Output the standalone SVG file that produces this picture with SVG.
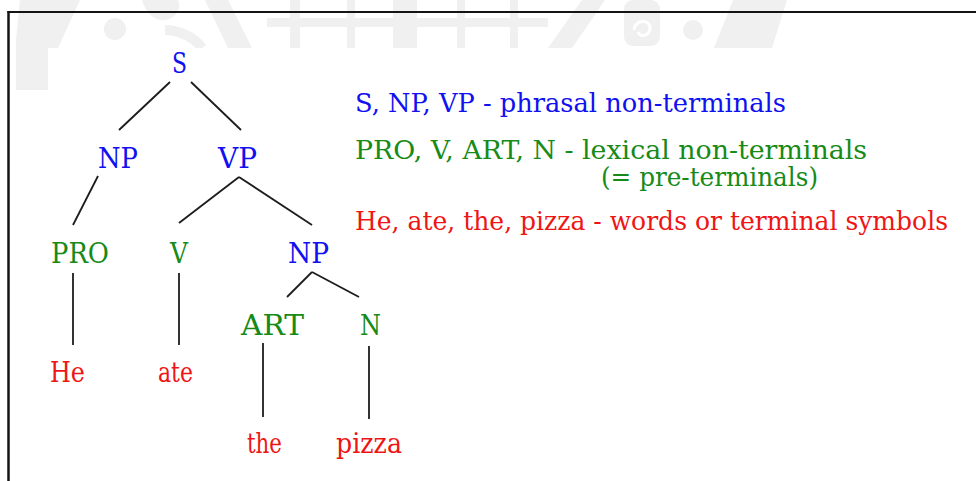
<svg xmlns="http://www.w3.org/2000/svg" width="976" height="481" viewBox="0 0 976 481">
  <style>
    .wm { fill: #f0f0f0; }
    .frame { stroke: #141414; fill: none; }
    .edge { stroke: #1c1c1c; stroke-width: 1.8; fill: none; stroke-linecap: butt; }
    .lbl { font-family: "DejaVu Serif", "Liberation Serif", serif; font-size: 27px; text-anchor: middle; }
    .key { font-family: "DejaVu Serif", "Liberation Serif", serif; font-size: 26px; }
    .phr { fill: #1010f0; }
    .lex { fill: #178a17; }
    .word { fill: #ee1515; }
  </style>

  <rect width="976" height="481" fill="#ffffff"/>

  <!-- faint background emblem along the top -->
  <g id="emblem">
    <polygon class="wm" points="20,0 80,0 58,48 48,48 48,90 16,90 16,40"/>
    <circle class="wm" cx="115" cy="29" r="11"/>
    <path class="wm" d="M142,0 L178,0 C182,8 176,18 166,20 C156,22 146,14 142,0 Z"/>
    <path d="M165,30 C180,30 195,38 202,48" stroke="#f0f0f0" stroke-width="10" fill="none"/>
    <polygon class="wm" points="205,0 228,0 252,48 228,48"/>
    <rect class="wm" x="267" y="18" width="281" height="9"/>
    <rect class="wm" x="290" y="0" width="10" height="48"/>
    <rect class="wm" x="347" y="0" width="8" height="48"/>
    <rect class="wm" x="393" y="0" width="24" height="48"/>
    <rect class="wm" x="457" y="0" width="8" height="48"/>
    <rect class="wm" x="510" y="0" width="8" height="48"/>
    <polygon class="wm" points="582,0 605,0 572,48 548,48"/>
    <rect class="wm" x="624" y="0" width="36" height="46" rx="9"/>
    <path d="M634,30 C634,20 650,18 650,28 C650,36 640,38 638,32" stroke="#ffffff" stroke-width="3" fill="none"/>
    <circle class="wm" cx="693" cy="30" r="10"/>
    <polygon class="wm" points="733,0 787,0 772,48 714,48"/>
  </g>

  <!-- white drawing area -->
  <rect x="48" y="48" width="928" height="433" fill="#ffffff"/>

  <!-- frame -->
  <line class="frame" x1="7.5" y1="12" x2="976" y2="12" stroke-width="2"/>
  <line class="frame" x1="8.5" y1="11" x2="8.5" y2="481" stroke-width="2.5"/>

  <!-- tree branches -->
  <g id="connectors">
    <line class="edge" x1="170" y1="82" x2="119" y2="130"/>
    <line class="edge" x1="191" y1="82" x2="241" y2="130"/>
    <line class="edge" x1="98" y1="176" x2="73" y2="225"/>
    <line class="edge" x1="239" y1="177" x2="179" y2="223"/>
    <line class="edge" x1="239" y1="177" x2="312" y2="225"/>
    <line class="edge" x1="73" y1="273" x2="73" y2="345" stroke-width="2.2"/>
    <line class="edge" x1="179" y1="273" x2="179" y2="345" stroke-width="2.2"/>
    <line class="edge" x1="312" y1="272" x2="287" y2="297"/>
    <line class="edge" x1="312" y1="272" x2="359" y2="297"/>
    <line class="edge" x1="263" y1="343" x2="263" y2="417" stroke-width="2.2"/>
    <line class="edge" x1="369" y1="346" x2="369" y2="419" stroke-width="2.2"/>
  </g>

  <!-- tree nodes -->
  <g id="node-S"><text class="lbl phr" x="179.5" y="73" textLength="15" lengthAdjust="spacingAndGlyphs">S</text></g>
  <g id="node-NP1"><text class="lbl phr" x="118" y="168" textLength="40" lengthAdjust="spacingAndGlyphs">NP</text></g>
  <g id="node-VP"><text class="lbl phr" x="237.5" y="168" textLength="39" lengthAdjust="spacingAndGlyphs">VP</text></g>
  <g id="node-PRO"><text class="lbl lex" x="80" y="263" textLength="58" lengthAdjust="spacingAndGlyphs">PRO</text></g>
  <g id="node-V"><text class="lbl lex" x="179" y="263" textLength="18" lengthAdjust="spacingAndGlyphs">V</text></g>
  <g id="node-NP2"><text class="lbl phr" x="308.5" y="263" textLength="41" lengthAdjust="spacingAndGlyphs">NP</text></g>
  <g id="node-ART"><text class="lbl lex" x="272.5" y="335" textLength="63" lengthAdjust="spacingAndGlyphs">ART</text></g>
  <g id="node-N"><text class="lbl lex" x="370.5" y="335" textLength="21" lengthAdjust="spacingAndGlyphs">N</text></g>
  <g id="node-He"><text class="lbl word" x="67.5" y="382" textLength="35" lengthAdjust="spacingAndGlyphs">He</text></g>
  <g id="node-ate"><text class="lbl word" x="175.5" y="382" textLength="35" lengthAdjust="spacingAndGlyphs">ate</text></g>
  <g id="node-the"><text class="lbl word" x="264.5" y="453" textLength="35" lengthAdjust="spacingAndGlyphs">the</text></g>
  <g id="node-pizza"><text class="lbl word" x="369" y="453" textLength="66" lengthAdjust="spacingAndGlyphs">pizza</text></g>

  <!-- key -->
  <g id="key">
    <text class="key phr" x="355" y="112" textLength="431" lengthAdjust="spacingAndGlyphs">S, NP, VP - phrasal non-terminals</text>
    <text class="key lex" x="355" y="159" textLength="512" lengthAdjust="spacingAndGlyphs">PRO, V, ART, N - lexical non-terminals</text>
    <text class="key lex" x="601" y="186" textLength="217" lengthAdjust="spacingAndGlyphs">(= pre-terminals)</text>
    <text class="key word" x="355" y="230" textLength="593" lengthAdjust="spacingAndGlyphs">He, ate, the, pizza - words or terminal symbols</text>
  </g>
</svg>
